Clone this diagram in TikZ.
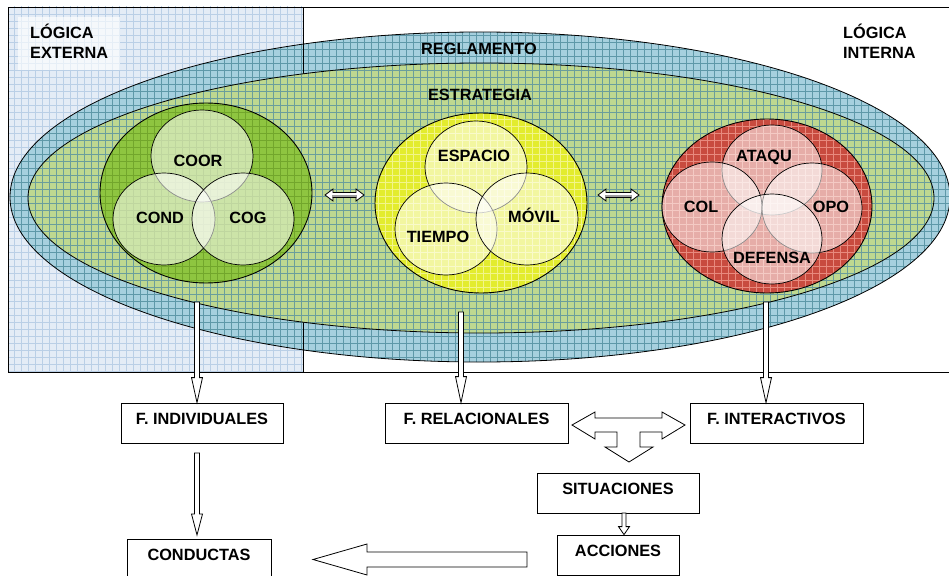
\documentclass[tikz,border=0pt]{standalone}
\usepackage{fontspec}
\setmainfont{Liberation Sans}
\usetikzlibrary{calc}
\definecolor{lbbg}{HTML}{E4ECF6}
\definecolor{lbgrid}{HTML}{BACFE6}
\definecolor{outerc}{HTML}{A6D0DE}
\definecolor{outgrid}{HTML}{5E98A8}
\definecolor{innerc}{HTML}{BED890}
\definecolor{ingrid}{HTML}{6A9E9C}
\definecolor{greenc}{HTML}{8EC540}
\definecolor{greengrid}{HTML}{72A62C}
\definecolor{yellowc}{HTML}{E3EC2E}
\definecolor{yellowgrid}{HTML}{F2F58A}
\definecolor{redc}{HTML}{C84B3F}
\definecolor{redgrid}{HTML}{E88A7E}
\newcommand\vblock[5]{\draw[blk] let \p1=(#1), \p2=(#2) in (\x1-#3pt,\y1) -- (\x1+#3pt,\y1) -- (\x1+#3pt,\y2+#5pt) -- (\x1+#4pt,\y2+#5pt) -- (\x1,\y2) -- (\x1-#4pt,\y2+#5pt) -- (\x1-#3pt,\y2+#5pt) -- cycle;}
\newcommand\hblock[5]{\draw[blk] let \p1=(#1), \p2=(#2) in (\x1,\y1+#3pt) -- (\x1,\y1-#3pt) -- (\x2+#5pt,\y1-#3pt) -- (\x2+#5pt,\y1-#4pt) -- (\x2,\y1) -- (\x2+#5pt,\y1+#4pt) -- (\x2+#5pt,\y1+#3pt) -- cycle;}
\newcommand\dblpath[2]{let \p1=(#1), \p2=(#2) in (\x1,\y1) -- (\x1+8pt,\y1+6pt) -- (\x1+8pt,\y1+2.5pt) -- (\x2-8pt,\y1+2.5pt) -- (\x2-8pt,\y1+6pt) -- (\x2,\y1) -- (\x2-8pt,\y1-6pt) -- (\x2-8pt,\y1-2.5pt) -- (\x1+8pt,\y1-2.5pt) -- (\x1+8pt,\y1-6pt) -- cycle}
\newcommand\dblock[2]{%
  \fill[white] \dblpath{#1}{#2};
  \fill[gray!75] let \p1=(#1), \p2=(#2) in (\x1+7pt,\y1) rectangle (\x2-7pt,\y1-2.5pt);
  \draw[line width=0.8pt, line join=miter] \dblpath{#1}{#2};}
\begin{document}
\begin{tikzpicture}[x=1pt,y=-1pt,
  font=\bfseries\fontsize{16.3}{19}\selectfont,
  lbl/.style={inner sep=0pt, anchor=base},
  fbox/.style={draw, line width=0.8pt, fill=white, inner sep=0pt, minimum height=40pt, text height=11.5pt, text depth=8pt},
  blk/.style={draw, line width=0.8pt, fill=white, line join=miter},
  venn/.style={fill=white, fill opacity=0.55, draw=black, draw opacity=1, line width=0.7pt}]
\useasboundingbox (0,0) rectangle (949,575);
\fill[white] (0,0) rectangle (949,575);
% left region
\fill[lbbg] (8,7) rectangle (303,372);
\begin{scope}
  \clip (8,7) rectangle (303,372);
  \draw[lbgrid, line width=0.5pt, step=7pt] (0,0) grid (310,380);
\end{scope}
\fill[white, opacity=0.65] (18,17) rectangle (120,70);
\node[lbl, anchor=base west] (lext1) at (30,39) {LÓGICA};
\node[lbl, anchor=base west] (lext2) at (30,59) {EXTERNA};
\node[lbl, anchor=base west] (lint1) at (843,39) {LÓGICA};
\node[lbl, anchor=base west] (lint2) at (843,59) {INTERNA};
% outer ellipse (reglamento)
\fill[outerc] (480,197) ellipse [x radius=470pt, y radius=165pt];
\begin{scope}
  \clip (480,197) ellipse [x radius=470pt, y radius=165pt];
  \draw[outgrid, line width=0.6pt, step=7pt] (0,0) grid (952,380);
\end{scope}
\draw[line width=0.8pt] (480,197) ellipse [x radius=470pt, y radius=165pt];
% frame
\draw[line width=0.8pt] (8,372) -- (8,7) -- (952,7);
\draw[line width=0.8pt] (8,372) -- (952,372);
\draw[line width=0.8pt] (303,7) -- (303,372);
% inner ellipse (estrategia)
\fill[innerc] (481,198) ellipse [x radius=453pt, y radius=135pt];
\begin{scope}
  \clip (481,198) ellipse [x radius=453pt, y radius=135pt];
  \draw[ingrid, line width=0.6pt, step=7pt] (0,0) grid (952,380);
\end{scope}
\draw[line width=0.8pt] (481,198) ellipse [x radius=453pt, y radius=135pt];
\node[lbl] (regl) at (479,55) {REGLAMENTO};
\node[lbl] (estr) at (480,100) {ESTRATEGIA};
% green group
\fill[greenc] (206,193) ellipse [x radius=106pt, y radius=90pt];
\begin{scope}
  \clip (206,193) ellipse [x radius=106pt, y radius=90pt];
  \draw[greengrid, line width=0.5pt, step=7pt] (0,0) grid (320,300);
\end{scope}
\draw[line width=0.9pt] (206,193) ellipse [x radius=106pt, y radius=90pt];
\draw[venn] (202,156) ellipse [x radius=51pt, y radius=46pt];
\draw[venn] (164,219) ellipse [x radius=51pt, y radius=46pt];
\draw[venn] (243,219) ellipse [x radius=51pt, y radius=46pt];
\node[lbl] (coor) at (198,166) {COOR};
\node[lbl] (cond) at (160,223) {COND};
\node[lbl] (cog) at (248,223) {COG};
% yellow group
\fill[yellowc] (481,203) ellipse [x radius=106pt, y radius=90pt];
\begin{scope}
  \clip (481,203) ellipse [x radius=106pt, y radius=90pt];
  \draw[yellowgrid, line width=0.5pt, step=7pt] (360,100) grid (600,300);
\end{scope}
\draw[line width=0.9pt] (481,203) ellipse [x radius=106pt, y radius=90pt];
\draw[venn] (476,167) ellipse [x radius=51pt, y radius=46pt];
\draw[venn] (446,229) ellipse [x radius=51pt, y radius=46pt];
\draw[venn] (527,219) ellipse [x radius=51pt, y radius=46pt];
\node[lbl] (esp) at (474,161) {ESPACIO};
\node[lbl] (mov) at (534,222) {MÓVIL};
\node[lbl] (tie) at (438,242) {TIEMPO};
% red group
\fill[redc] (767,206) ellipse [x radius=105pt, y radius=87pt];
\begin{scope}
  \clip (767,206) ellipse [x radius=105pt, y radius=87pt];
  \draw[redgrid, line width=0.5pt, step=7pt] (650,100) grid (880,300);
\end{scope}
\draw[line width=0.9pt] (767,206) ellipse [x radius=105pt, y radius=87pt];
\draw[venn] (772,170) ellipse [x radius=50pt, y radius=45pt];
\draw[venn] (712,207) ellipse [x radius=50pt, y radius=45pt];
\draw[venn] (812,208) ellipse [x radius=50pt, y radius=45pt];
\draw[venn] (772,239) ellipse [x radius=50pt, y radius=45pt];
\node[lbl] (ataq) at (764,161) {ATAQU};
\node[lbl] (col) at (701,212) {COL};
\node[lbl] (opo) at (831,212) {OPO};
\node[lbl] (def) at (772,263) {DEFENSA};
% double arrows between groups
\coordinate (d1l) at (325,195);
\coordinate (d1r) at (364,195);
\coordinate (d2l) at (598,195);
\coordinate (d2r) at (639,195);
\dblock{d1l}{d1r}
\dblock{d2l}{d2r}
% boxes
\node[fbox, minimum width=162pt] (ind) at (202,423) {F. INDIVIDUALES};
\node[fbox, minimum width=183pt] (rel) at (476.5,423) {F. RELACIONALES};
\node[fbox, minimum width=173pt] (int) at (776.5,423) {F. INTERACTIVOS};
\node[fbox, minimum width=162pt] (sit) at (618,493) {SITUACIONES};
\node[fbox, minimum width=122pt] (acc) at (618,555) {ACCIONES};
\node[fbox, minimum width=144pt] (cdt) at (199,559) {CONDUCTAS};
% vertical arrows
\coordinate (a1) at (197,302);
\coordinate (a2) at (461,312);
\coordinate (a3) at (766,302);
\vblock{a1}{a1 |- ind.north}{2.5}{5.5}{25}
\vblock{a2}{a2 |- rel.north}{2.5}{5.5}{26}
\vblock{a3}{a3 |- int.north}{2.5}{5.5}{25}
\coordinate (a4) at (197,453);
\coordinate (t4) at (197,535);
\vblock{a4}{t4}{2.5}{5.5}{21}
\coordinate (a5) at (624,513);
\vblock{a5}{a5 |- acc.north}{2}{5.5}{8}
% big left arrow
\coordinate (a6) at (527,559.5);
\coordinate (t6) at (313,559.5);
\hblock{a6}{t6}{7.5}{15.5}{54}
% T-shaped arrow
\begin{scope}[shift={(628.5,425)}]
\draw[blk] (-56.5,0) -- (-33.5,-13) -- (-33.5,-7) -- (33.5,-7) -- (33.5,-13) -- (56.5,0) -- (33.5,14) -- (33.5,7) -- (11.5,7) -- (11.5,22) -- (24.5,22) -- (0.5,37) -- (-23.5,22) -- (-11.5,22) -- (-11.5,7) -- (-33.5,7) -- (-33.5,14) -- cycle;
\end{scope}
\end{tikzpicture}
\end{document}
